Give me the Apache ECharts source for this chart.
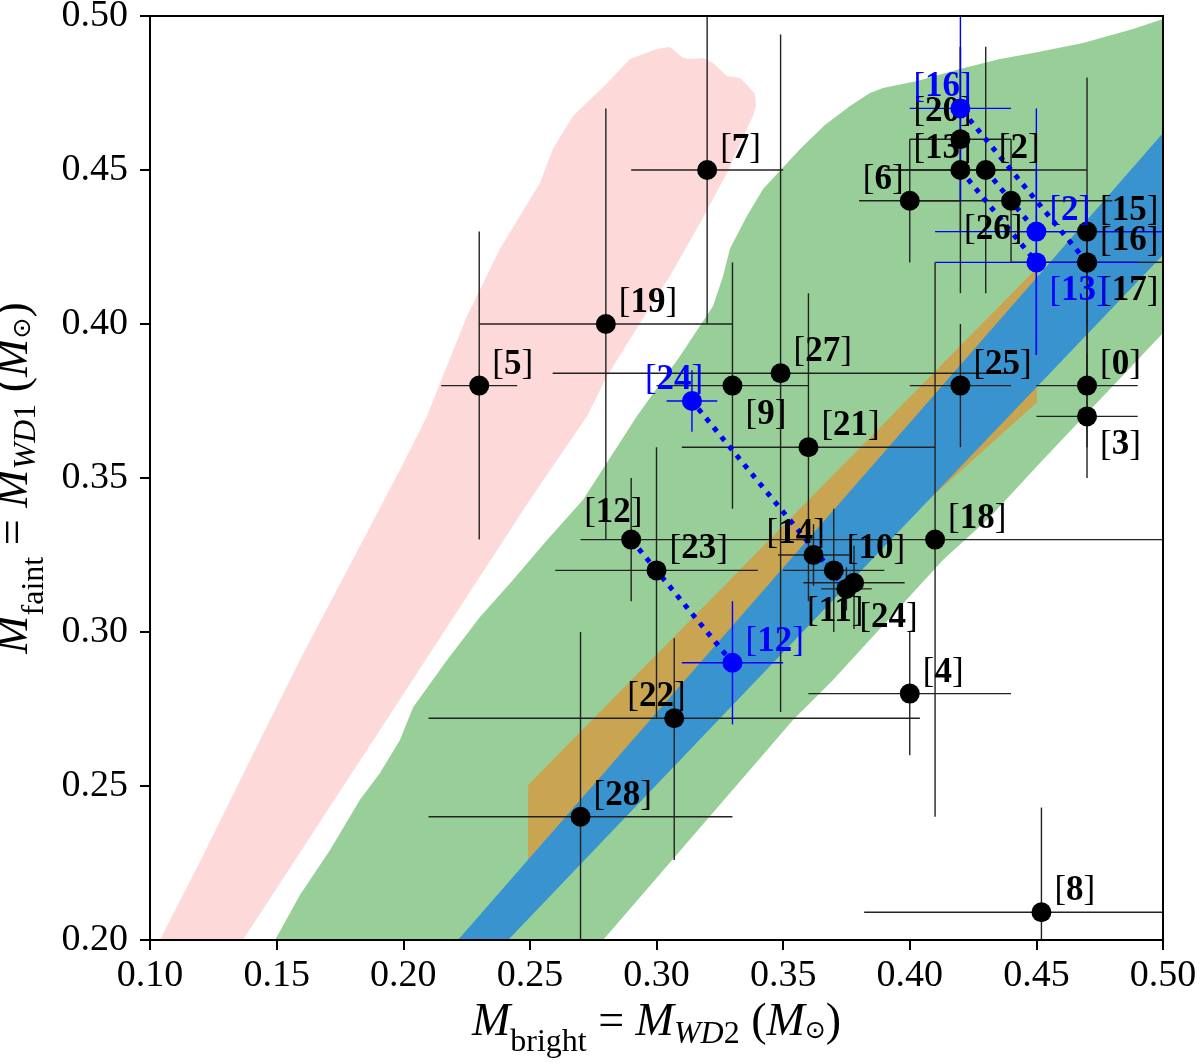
<!DOCTYPE html>
<html><head><meta charset="utf-8">
<script src="https://cdn.jsdelivr.net/npm/echarts@6/dist/echarts.min.js"></script>
<style>html,body{margin:0;padding:0;background:#fff}#c{width:1200px;height:1064px}</style>
</head><body><div id="c"></div>
<script>
// ---------- axis ticks ----------
const xTickValues = [0.10,0.15,0.20,0.25,0.30,0.35,0.40,0.45,0.50];
const yTickValues = [0.20,0.25,0.30,0.35,0.40,0.45,0.50];

// ---------- black systems ----------
const blackNames = ['0','2','3','4','5','6','7','8','9','10','11','12','13','14','15','16','17','18','19','20','21','22','23','24','25','26','27','28'];
const blackX   = [0.47,0.43,0.47,0.40,0.23,0.40,0.32,0.452,0.33,0.37,0.378,0.29,0.42,0.362,0.47,0.47,0.47,0.41,0.28,0.42,0.36,0.307,0.30,0.375,0.42,0.44,0.349,0.27];
const blackY   = [0.38,0.45,0.37,0.28,0.38,0.44,0.45,0.209,0.38,0.32,0.316,0.33,0.45,0.325,0.43,0.42,0.42,0.33,0.40,0.46,0.36,0.272,0.32,0.314,0.38,0.44,0.384,0.24];
const blackXLo = [0.45,0.39,0.45,0.36,0.215,0.38,0.29,0.382,0.30,0.35,0.358,0.27,0.39,0.348,0.44,0.44,0.44,0.31,0.23,0.40,0.31,0.21,0.26,0.365,0.40,0.40,0.259,0.21];
const blackXHi = [0.49,0.47,0.49,0.44,0.245,0.42,0.35,0.522,0.36,0.39,0.398,0.31,0.45,0.376,0.50,0.50,0.50,0.51,0.33,0.44,0.41,0.404,0.34,0.385,0.44,0.48,0.439,0.33];
const blackYLo = [0.36,0.41,0.35,0.26,0.33,0.42,0.40,0.175,0.34,0.30,0.301,0.31,0.41,0.315,0.38,0.40,0.40,0.24,0.33,0.43,0.31,0.226,0.272,0.307,0.36,0.42,0.274,0.18];
const blackYHi = [0.40,0.49,0.39,0.30,0.43,0.46,0.51,0.243,0.42,0.34,0.328,0.35,0.49,0.335,0.48,0.44,0.44,0.42,0.47,0.49,0.41,0.298,0.36,0.321,0.40,0.46,0.494,0.30];
const blackLabelSide = ['ur','ur','dr','ur','ur','ul','ur','ur','dr','ur','dl','ul+','ul','ul','ur','ur','dr','ur','ur','ul+','ur','ul','ur','dr','ur','dl','ur','ur'];

// ---------- blue (swapped) systems ----------
const blueNames = ['16','2','13','24','12'];
const blueX   = [0.42,0.45,0.45,0.314,0.33];
const blueY   = [0.47,0.43,0.42,0.375,0.29];
const blueXLo = [0.40,0.41,0.41,0.304,0.31];
const blueXHi = [0.44,0.50,0.49,0.324,0.35];
const blueYLo = [0.44,0.39,0.39,0.365,0.27];
const blueYHi = [0.51,0.47,0.45,0.385,0.31];
const blueLabelSide = ['ul','ur','dr','ul','ur'];

// ---------- shaded regions (outline vertices, data units) ----------
const pinkRegion = [[0.1039,0.2000],[0.1197,0.2253],[0.1395,0.2584],[0.1592,0.2909],[0.1790,0.3218],[0.1987,0.3526],[0.2094,0.3701],[0.2145,0.3808],[0.2252,0.4026],[0.2382,0.4244],[0.2540,0.4458],[0.2591,0.4568],[0.2670,0.4675],[0.2805,0.4782],[0.2895,0.4860],[0.3002,0.4893],[0.3053,0.4899],[0.3105,0.4864],[0.3132,0.4860],[0.3184,0.4864],[0.3223,0.4847],[0.3278,0.4805],[0.3330,0.4799],[0.3361,0.4773],[0.3389,0.4747],[0.3393,0.4708],[0.3381,0.4675],[0.3357,0.4633],[0.3278,0.4490],[0.3172,0.4328],[0.3053,0.4156],[0.2935,0.4003],[0.2805,0.3831],[0.2726,0.3701],[0.2500,0.3429],[0.2204,0.3055],[0.1908,0.2682],[0.1367,0.2000]];
const greenRegion = [[0.1494,0.2000],[0.1592,0.2146],[0.1711,0.2292],[0.1829,0.2455],[0.1908,0.2542],[0.1987,0.2649],[0.2039,0.2756],[0.2173,0.2909],[0.2303,0.3049],[0.2433,0.3169],[0.2568,0.3299],[0.2710,0.3429],[0.2923,0.3701],[0.3093,0.3896],[0.3223,0.4058],[0.3263,0.4156],[0.3290,0.4244],[0.3357,0.4351],[0.3421,0.4438],[0.3567,0.4568],[0.3665,0.4646],[0.3764,0.4708],[0.3843,0.4750],[0.3894,0.4766],[0.4029,0.4789],[0.4198,0.4828],[0.4356,0.4860],[0.4487,0.4880],[0.4684,0.4912],[0.4882,0.4958],[0.5000,0.4990],[0.5000,0.3971],[0.4514,0.3549],[0.4317,0.3373],[0.4131,0.3234],[0.3697,0.2844],[0.3539,0.2714],[0.2789,0.2000]];
const orangeRegion = [[0.2493,0.2260],[0.2493,0.2503],[0.4502,0.4182],[0.4502,0.3745]];
const blueRegion = [[0.2216,0.2000],[0.5000,0.4620],[0.5000,0.4224],[0.2414,0.2000]];

const FONT = "'Liberation Serif', 'DejaVu Serif', serif";

function sideToPos(side){
  // label box anchored at its bottom-left; symbol bbox top-left is (cx-10, cy-10)
  const dx = side[1] === 'r' ? 23 : -37;
  let dy = side[0] === 'u' ? 7 : 57;
  if (side[2] === '+') dy -= 6;
  return [dx, dy];
}

function buildPoints(names, xs, ys, sides){
  return names.map((n,i)=>({
    name: n, value: [xs[i], ys[i]],
    label: {position: sideToPos(sides[i])}
  }));
}
function buildErr(xs, ys, xl, xh, yl, yh){
  return xs.map((x,i)=>[x, ys[i], xl[i], xh[i], yl[i], yh[i]]);
}
function errRender(color){
  return function(params, api){
    const x = api.value(0), y = api.value(1);
    const a = api.coord([api.value(2), y]), b = api.coord([api.value(3), y]);
    const c = api.coord([x, api.value(4)]), d = api.coord([x, api.value(5)]);
    return {type:'group', children:[
      {type:'line', shape:{x1:a[0],y1:a[1],x2:b[0],y2:b[1]}, style:{stroke:color, lineWidth:1.4}},
      {type:'line', shape:{x1:c[0],y1:c[1],x2:d[0],y2:d[1]}, style:{stroke:color, lineWidth:1.4}}
    ]};
  };
}
function regionSeries(pts, color, z){
  return {
    type:'custom', z:z, clip:true, silent:true,
    data:[pts[0]],
    renderItem:function(params, api){
      return {type:'polygon', shape:{points: pts.map(p=>api.coord(p))}, style:{fill:color}};
    }
  };
}

// connectors between each black system and its blue swapped counterpart
const connectors = blueNames.map((n,j)=>{
  const i = blackNames.indexOf(n);
  return [blackX[i], blackY[i], blueX[j], blueY[j]];
});

function labelRich(color){
  return {
    b:{fontFamily:FONT, fontSize:35, lineHeight:36, color:color},
    n:{fontFamily:FONT, fontSize:35, lineHeight:36, fontWeight:'bold', color:color}
  };
}

const nameRich = {
  i:{fontFamily:FONT, fontStyle:'italic', fontSize:46, lineHeight:50, verticalAlign:'top', color:'#000'},
  r:{fontFamily:FONT, fontSize:46, lineHeight:50, verticalAlign:'top', color:'#000'},
  s:{fontFamily:FONT, fontSize:32, lineHeight:32, padding:[27,0,0,0], verticalAlign:'top', color:'#000'},
  si:{fontFamily:FONT, fontStyle:'italic', fontSize:32, lineHeight:32, padding:[19,0,0,0], verticalAlign:'top', color:'#000'},
  sd:{fontFamily:FONT, fontSize:32, lineHeight:32, padding:[19,0,0,0], verticalAlign:'top', color:'#000'},
  o:{fontFamily:"'DejaVu Sans', sans-serif", fontSize:25, lineHeight:32, padding:[19,0,0,0], verticalAlign:'top', color:'#000'}
};

const axisCommon = {
  type:'value', z:10,
  axisLine:{show:true, lineStyle:{color:'#000', width:2}},
  splitLine:{show:false}
};

const chart = echarts.init(document.getElementById('c'), null, {renderer:'canvas'});
chart.setOption({
  animation:false,
  backgroundColor:'#fff',
  grid:{left:150, right:37, top:16, bottom:124, containLabel:false, outerBoundsMode:'none'},
  xAxis:[
    Object.assign({}, axisCommon, {
      min:xTickValues[0], max:xTickValues[xTickValues.length-1], interval:0.05,
      axisTick:{show:true, length:10, lineStyle:{color:'#000', width:2}},
      axisLabel:{fontFamily:FONT, fontSize:38, color:'#000', margin:17, formatter:v=>v.toFixed(2)},
      name:'{i|M}{s|bright}{r| = }{i|M}{si|WD}{sd|2}{r| (}{i|M}{o|⊙}{r|)}',
      nameLocation:'middle', nameGap:46,
      nameTextStyle:{rich:nameRich}
    }),
    Object.assign({}, axisCommon, {
      position:'top', min:0.1, max:0.5, axisTick:{show:false}, axisLabel:{show:false}
    })
  ],
  yAxis:[
    Object.assign({}, axisCommon, {
      min:yTickValues[0], max:yTickValues[yTickValues.length-1], interval:0.05,
      axisTick:{show:true, length:10, lineStyle:{color:'#000', width:2}},
      axisLabel:{fontFamily:FONT, fontSize:38, color:'#000', margin:22, formatter:v=>v.toFixed(2)},
      name:'{i|M}{s|faint}{r| = }{i|M}{si|WD}{sd|1}{r| (}{i|M}{o|⊙}{r|)}',
      nameLocation:'middle', nameGap:100, nameRotate:90,
      nameTextStyle:{rich:nameRich}
    }),
    Object.assign({}, axisCommon, {
      position:'right', min:0.2, max:0.5, axisTick:{show:false}, axisLabel:{show:false}
    })
  ],
  series:[
    regionSeries(pinkRegion, '#fdd9d9', 1),
    regionSeries(greenRegion, '#98cf98', 1),
    regionSeries(orangeRegion, '#c9a552', 1),
    regionSeries(blueRegion, '#3993cf', 1),
    {
      type:'custom', z:3, clip:true, silent:true,
      data: buildErr(blackX, blackY, blackXLo, blackXHi, blackYLo, blackYHi),
      encode:{x:[0,2,3], y:[1,4,5]},
      renderItem: errRender('#222')
    },
    {
      type:'custom', z:3, clip:true, silent:true,
      data: buildErr(blueX, blueY, blueXLo, blueXHi, blueYLo, blueYHi),
      encode:{x:[0,2,3], y:[1,4,5]},
      renderItem: errRender('#0000ff')
    },
    {
      type:'custom', z:4, clip:true, silent:true,
      data: connectors,
      encode:{x:[0,2], y:[1,3]},
      renderItem:function(params, api){
        const a = api.coord([api.value(0), api.value(1)]);
        const b = api.coord([api.value(2), api.value(3)]);
        return {type:'line', shape:{x1:a[0],y1:a[1],x2:b[0],y2:b[1]},
          style:{stroke:'#0000ff', lineWidth:5, lineDash:[5,7]}};
      }
    },
    {
      type:'scatter', z:5, silent:true,
      symbol:'circle', symbolSize:20,
      itemStyle:{color:'#000', opacity:1},
      data: buildPoints(blackNames, blackX, blackY, blackLabelSide),
      label:{show:true, align:'left', verticalAlign:'bottom', opacity:1,
        formatter:p=>'{b|[}{n|'+p.name+'}{b|]}', rich:labelRich('#000')}
    },
    {
      type:'scatter', z:6, silent:true,
      symbol:'circle', symbolSize:20,
      itemStyle:{color:'#0000ff', opacity:1},
      data: buildPoints(blueNames, blueX, blueY, blueLabelSide),
      label:{show:true, align:'left', verticalAlign:'bottom', opacity:1,
        formatter:p=>'{b|[}{n|'+p.name+'}{b|]}', rich:labelRich('#0000ff')}
    }
  ]
});
</script>
</body></html>
